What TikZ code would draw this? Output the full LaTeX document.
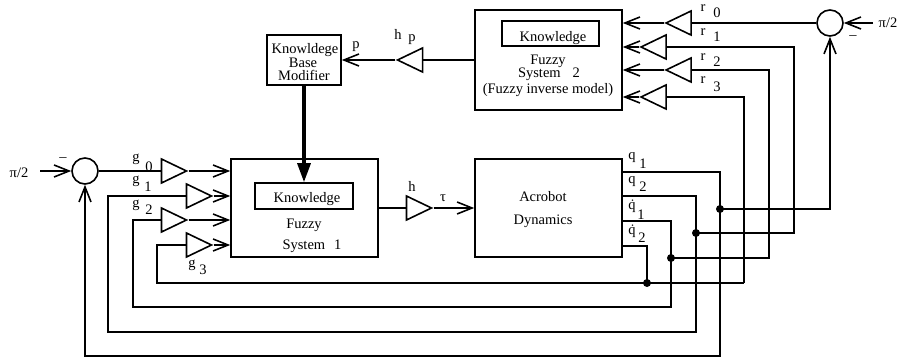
\documentclass[tikz,border=0pt]{standalone}
\usepackage{fontspec}
\setmainfont{Liberation Serif}
\usetikzlibrary{arrows.meta,shapes.geometric}
\begin{document}
\begin{tikzpicture}[x=1pt,y=-1pt,line width=1.6pt,
  font=\fontsize{14.5}{15}\selectfont,
  arr/.style={-{Straight Barb[length=15pt,width=12pt]}},
  bigarr/.style={line width=3.2pt,-{Triangle[length=19pt,width=13pt]}},
  box/.style={draw,rectangle,inner sep=0pt,minimum width=147pt},
  kbox/.style={draw,rectangle,inner sep=0pt,minimum width=98pt,minimum height=26pt},
  sumnode/.style={draw,circle,inner sep=0pt,minimum size=26pt},
  ampR/.style={draw,isosceles triangle,isosceles triangle stretches,inner sep=0pt,
               minimum width=24pt,minimum height=25pt},
  ampL/.style={ampR,shape border rotate=180},
  txt/.style={inner sep=0pt,anchor=base},
  lbl/.style={inner sep=0pt},
  jdot/.style={circle,fill,inner sep=0pt,minimum size=8pt}]
\useasboundingbox (0,0) rectangle (899,358);

% main blocks
\node[box,minimum height=98pt] (fs1) at (304.5,208) {};
\node[box,minimum height=98pt] (acro) at (548.5,208) {};
\node[box,minimum height=100pt] (fs2) at (548.5,60) {};
\node[draw,rectangle,inner sep=0pt,minimum width=74pt,minimum height=50pt] (kbm) at (304,60) {};
\node[kbox] (k1) at (304,196) {};
\node[kbox,minimum width=97pt,minimum height=25pt] (k2) at (550.5,33.5) {};

% texts in blocks
\node[txt] (k1t) at (307,203) {Knowledge};
\node[txt] (f1a) at (304,229) {Fuzzy};
\node[txt] (f1b) at (312,249) {System\hspace{9pt}1};
\node[txt] (act) at (543,202) {Acrobot};
\node[txt] (dyn) at (543,224) {Dynamics};
\node[txt] (k2t) at (553,42) {Knowledge};
\node[txt] (f2a) at (548,65) {Fuzzy};
\node[txt] (f2b) at (549,78) {System\hspace{12pt}2};
\node[txt] (f2c) at (548,94) {(Fuzzy inverse model)};
\node[txt] (kb1) at (305,54) {Knowldege};
\node[txt] (kb2) at (303,68) {Base};
\node[txt] (kb3) at (304,81) {Modifier};

% summing junctions and inputs
\node[sumnode] (sumL) at (85,171) {};
\node[sumnode] (sumR) at (830,23) {};
\node[lbl] (piL) at (19,173) {π/2};
\node[lbl] (piR) at (888,23) {π/2};
\node[lbl] (mL) at (63,160) {–};
\node[lbl] (mR) at (853,38) {–};
\coordinate (inL) at (40,171);
\coordinate (inR) at (873,23);
\draw[arr] (inL) -- (sumL.west);
\draw[arr] (inR) -- (sumR.east);

% gains
\node[ampR] (g0) at (169,171) {};
\node[ampR] (g1) at (194,196) {};
\node[ampR] (g2) at (169,220) {};
\node[ampR] (g3) at (194,245) {};
\node[ampR] (h) at (414,208) {};
\node[ampL] (hp) at (415,60) {};
\node[ampL] (r0) at (683.5,23) {};
\node[ampL] (r1) at (658.5,47) {};
\node[ampL] (r2) at (683.5,70) {};
\node[ampL] (r3) at (658.5,97) {};

% gain labels
\node[lbl] (lg0) at (136,159) {g};
\node[lbl] (lg0s) at (149,167) {0};
\node[lbl] (lg1) at (136,181) {g};
\node[lbl] (lg1s) at (148,187) {1};
\node[lbl] (lg2) at (136,205) {g};
\node[lbl] (lg2s) at (149,210) {2};
\node[lbl] (lg3) at (192,265) {g};
\node[lbl] (lg3s) at (203,270) {3};
\node[lbl] (lh) at (412,186) {h};
\node[lbl] (ltau) at (443,198) {τ};
\node[lbl] (lhp) at (398,34) {h};
\node[lbl] (lhps) at (412,40) {p};
\node[lbl] (lp) at (356,47) {p};
\node[lbl] (lr0) at (703,8) {r};
\node[lbl] (lr0s) at (717,13) {0};
\node[lbl] (lr1) at (703,32) {r};
\node[lbl] (lr1s) at (717,37) {1};
\node[lbl] (lr2) at (703,57) {r};
\node[lbl] (lr2s) at (717,62) {2};
\node[lbl] (lr3) at (703,80) {r};
\node[lbl] (lr3s) at (717,87) {3};
\node[lbl] (lq1) at (632,158) {q};
\node[lbl] (lq1s) at (643,164) {1};
\node[lbl] (lq2) at (632,182) {q};
\node[lbl] (lq2s) at (643,187) {2};
\node[lbl] (lq3) at (632,206) {\.{q}};
\node[lbl] (lq3s) at (641,215) {1};
\node[lbl] (lq4) at (632,231) {\.{q}};
\node[lbl] (lq4s) at (642,238) {2};

% forward path
\draw (sumL.east) -- (g0.lower side);
\draw[arr] (g0.apex) -- (g0.apex -| fs1.west);
\draw[arr] (g1.apex) -- (g1.apex -| fs1.west);
\draw[arr] (g2.apex) -- (g2.apex -| fs1.west);
\draw[arr] (g3.apex) -- (g3.apex -| fs1.west);
\draw (fs1.east) -- (h.lower side);
\draw[arr] (h.apex) -- (acro.west);
\draw (sumR.west) -- (r0.lower side);
\draw[arr] (r0.apex) -- (r0.apex -| fs2.east);
\draw[arr] (r1.apex) -- (r1.apex -| fs2.east);
\draw[arr] (r2.apex) -- (r2.apex -| fs2.east);
\draw[arr] (r3.apex) -- (r3.apex -| fs2.east);
\draw (fs2.west) -- (hp.lower side);
\draw[arr] (hp.apex) -- (kbm.east);
\draw[bigarr] (kbm.south) -- (k1.north);

% feedback q1
\coordinate (c1a) at (720,172);
\coordinate (c1b) at (720,356);
\coordinate (c1c) at (85,356);
\draw[arr] (c1a -| acro.east) -- (c1a) -- (c1b) -- (c1c) -- (sumL.south);
\node[jdot] (d1) at (720,209) {};
\coordinate (c1d) at (830,209);
\draw[arr] (d1.center) -- (c1d) -- (sumR.south);

% feedback q2
\coordinate (c2a) at (696,196);
\coordinate (c2b) at (696,332);
\coordinate (c2c) at (108,332);
\coordinate (c2d) at (108,196);
\draw (c2a -| acro.east) -- (c2a) -- (c2b) -- (c2c) -- (c2d) -- (g1.lower side);
\node[jdot] (d2) at (696,233) {};
\coordinate (c2e) at (794,233);
\draw (d2.center) -- (c2e) -- (c2e |- r1.lower side) -- (r1.lower side);

% feedback q1 dot
\coordinate (c3a) at (671,221);
\coordinate (c3b) at (671,307);
\coordinate (c3c) at (133,307);
\coordinate (c3d) at (133,220);
\draw (c3a -| acro.east) -- (c3a) -- (c3b) -- (c3c) -- (c3d) -- (g2.lower side);
\node[jdot] (d3) at (671,258) {};
\coordinate (c3e) at (769,258);
\draw (d3.center) -- (c3e) -- (c3e |- r2.lower side) -- (r2.lower side);

% feedback q2 dot
\coordinate (c4a) at (647,246);
\node[jdot] (d4) at (647,283) {};
\coordinate (c4c) at (157,283);
\coordinate (c4d) at (157,245);
\coordinate (c4e) at (744,283);
\draw (c4a -| acro.east) -- (c4a) -- (d4.center);
\draw (c4e) -- (c4c) -- (c4d) -- (g3.lower side);
\draw (c4e) -- (c4e |- r3.lower side) -- (r3.lower side);
\end{tikzpicture}
\end{document}
